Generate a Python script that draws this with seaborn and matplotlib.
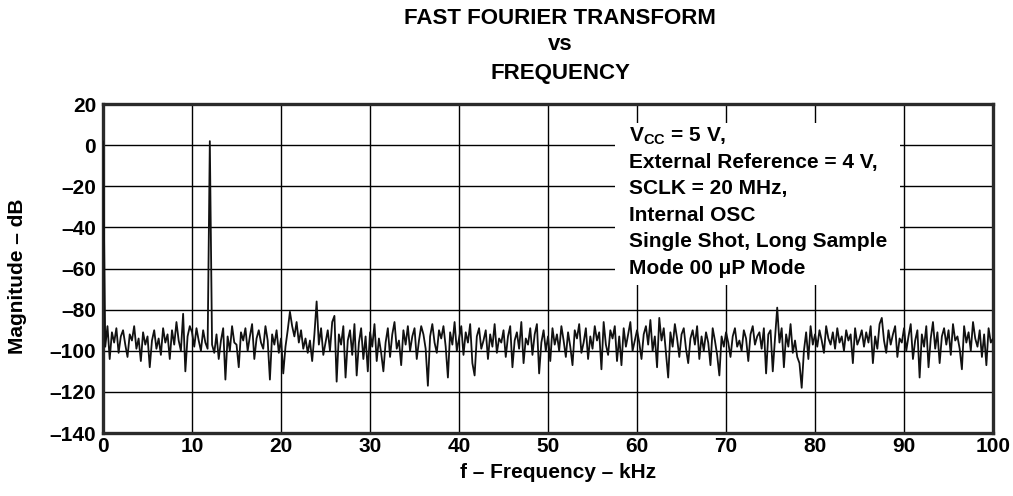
import numpy as np
import pandas as pd
import matplotlib
matplotlib.use("Agg")
import matplotlib.pyplot as plt
from matplotlib.patches import Rectangle
import seaborn as sns

# FFT magnitude, every 0.25 kHz (0 .. 100 kHz)
freq_step_khz = 0.25
magnitude_db = [
    2, -98, -88, -104, -91, -96, -89, -101, -93, -90, -97, -103, -92, -95, -88, -99, -94, -105, -91, -97,
    -93, -108, -95, -90, -99, -94, -102, -89, -96, -92, -104, -90, -97, -86, -95, -100, -82, -110, -93, -88,
    -91, -98, -89, -95, -100, -90, -96, -99, 2, -97, -101, -92, -104, -95, -89, -114, -93, -100, -88, -96,
    -97, -108, -91, -95, -89, -100, -93, -87, -104, -94, -90, -96, -99, -88, -95, -114, -92, -97, -90, -101,
    -94, -111, -98, -90, -81, -88, -93, -86, -96, -90, -99, -94, -101, -95, -105, -92, -76, -97, -89, -102,
    -96, -90, -100, -86, -83, -115, -92, -97, -88, -113, -95, -90, -102, -87, -112, -96, -89, -104, -93, -110,
    -91, -98, -87, -105, -94, -101, -110, -96, -89, -103, -92, -86, -99, -95, -107, -90, -97, -88, -100, -93,
    -89, -104, -95, -88, -92, -99, -117, -93, -87, -96, -101, -90, -94, -88, -98, -113, -91, -97, -86, -100,
    -94, -88, -102, -91, -96, -87, -106, -112, -93, -89, -99, -95, -90, -104, -92, -98, -87, -101, -94, -96,
    -90, -103, -93, -88, -108, -95, -91, -99, -86, -106, -94, -97, -89, -102, -92, -87, -111, -96, -90, -100,
    -93, -105, -89, -97, -92, -100, -88, -95, -103, -91, -98, -107, -90, -94, -87, -101, -96, -89, -104, -93,
    -99, -88, -95, -91, -109, -86, -97, -102, -90, -94, -88, -105, -93, -107, -89, -98, -92, -86, -100, -95,
    -90, -96, -104, -92, -88, -97, -85, -100, -93, -108, -84, -95, -89, -101, -113, -91, -98, -87, -94, -103,
    -92, -89, -99, -106, -94, -90, -97, -88, -104, -93, -100, -91, -96, -107, -89, -95, -102, -112, -93, -98,
    -91, -96, -103, -93, -89, -98, -95, -100, -90, -94, -105, -92, -88, -97, -93, -91, -99, -89, -111, -92,
    -90, -110, -94, -79, -96, -89, -108, -92, -98, -87, -101, -95, -103, -106, -118, -100, -91, -104, -88, -97,
    -92, -98, -90, -95, -101, -88, -94, -97, -91, -99, -89, -96, -93, -100, -90, -95, -92, -106, -89, -97,
    -94, -90, -98, -91, -96, -88, -106, -93, -99, -87, -84, -95, -101, -90, -97, -92, -88, -103, -94, -96,
    -89, -100, -93, -87, -104, -95, -90, -113, -92, -98, -88, -108, -94, -86, -99, -91, -106, -93, -89, -97,
    -90, -102, -87, -95, -93, -99, -109, -88, -96, -91, -100, -86, -94, -98, -90, -103, -92, -107, -89, -96,
    -94,
]
freq_khz = [i * freq_step_khz for i in range(len(magnitude_db))]

x_ticks = [0, 10, 20, 30, 40, 50, 60, 70, 80, 90, 100]
y_ticks = [20, 0, -20, -40, -60, -80, -100, -120, -140]

title_lines = ["FAST FOURIER TRANSFORM", "vs", "FREQUENCY"]
notes = [
    r"V$_{\mathregular{CC}}$ = 5 V,",
    "External Reference = 4 V,",
    "SCLK = 20 MHz,",
    "Internal OSC",
    "Single Shot, Long Sample",
    "Mode 00 \u03bcP Mode",
]

sns.set_style("white")
plt.rcParams["font.family"] = ["Liberation Sans", "DejaVu Sans"]
plt.rcParams["font.weight"] = "bold"
plt.rcParams["text.color"] = "black"
plt.rcParams["xtick.color"] = "black"
plt.rcParams["ytick.color"] = "black"
plt.rcParams["mathtext.fontset"] = "custom"
plt.rcParams["mathtext.rm"] = "Liberation Sans:bold"
plt.rcParams["mathtext.bf"] = "Liberation Sans:bold"

df = pd.DataFrame({"freq": freq_khz, "mag": magnitude_db})

fig = plt.figure(figsize=(10.13, 4.96), dpi=100)
ax = fig.add_axes([0.1017, 0.127, 0.8786, 0.663])

sns.lineplot(data=df, x="freq", y="mag", ax=ax, color="#111111", linewidth=1.3, zorder=3)

ax.set_xlim(0, 100)
ax.set_ylim(-140, 20)
ax.set_xticks(x_ticks)
ax.set_yticks(y_ticks)
ax.set_xticklabels([str(t) for t in x_ticks], fontsize=15, fontweight="bold")
ax.set_yticklabels([str(t).replace("-", "\u2013") for t in y_ticks], fontsize=15, fontweight="bold")
ax.tick_params(axis="y", length=0, pad=5)
ax.tick_params(axis="x", length=0, pad=3)
ax.grid(True, color="black", linewidth=1.0)
ax.set_axisbelow(True)
for s in ax.spines.values():
    s.set_color("#2a2a2a")
    s.set_linewidth(2.4)

ax.set_xlabel("")
ax.set_ylabel("")

# white box for the operating conditions
ax.add_patch(Rectangle((0.575, 0.45), 0.32, 0.492, transform=ax.transAxes,
                       facecolor="white", edgecolor="none", zorder=2))
for i, line in enumerate(notes):
    y_px = 136 + i * 26.4
    fig.text(629 / 1013, 1 - y_px / 496, line, fontsize=15, fontweight="bold",
             ha="left", va="center", zorder=4)

for y_px, line in zip([18, 45, 73], title_lines):
    fig.text(560 / 1013, 1 - y_px / 496, line, fontsize=16, fontweight="bold",
             ha="center", va="center")

fig.text(558 / 1013, 1 - 472 / 496, "f \u2013 Frequency \u2013 kHz", fontsize=15,
         fontweight="bold", ha="center", va="center")
fig.text(18 / 1013, 1 - 276 / 496, "Magnitude \u2013 dB", fontsize=15,
         fontweight="bold", ha="center", va="center", rotation=90)

fig.savefig("out.png", dpi=100)
